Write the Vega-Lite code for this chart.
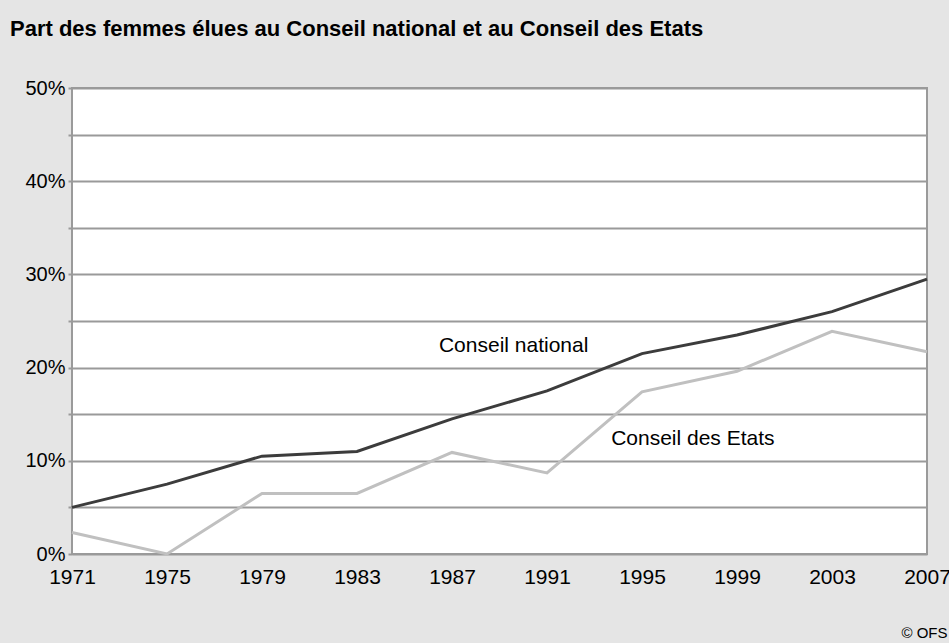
{
  "$schema": "https://vega.github.io/schema/vega-lite/v6.json",
  "width": 855,
  "height": 466,
  "autosize": {"type": "none"},
  "padding": {"left": 72, "top": 88, "right": 22, "bottom": 89},
  "background": "#e5e5e5",
  "config": {
    "font": "Liberation Sans",
    "view": {"fill": "white", "stroke": "#9a9a9a", "strokeWidth": 2}
  },
  "title": {
    "text": "Part des femmes élues au Conseil national et au Conseil des Etats",
    "anchor": "start",
    "frame": "group",
    "dx": -62,
    "offset": 37,
    "fontSize": 22,
    "fontWeight": "bold",
    "color": "#000000",
    "font": "Liberation Sans"
  },
  "datasets": {
    "series": [
      {"year": 1971, "value": 0.050, "conseil": "Conseil national"},
      {"year": 1975, "value": 0.075, "conseil": "Conseil national"},
      {"year": 1979, "value": 0.105, "conseil": "Conseil national"},
      {"year": 1983, "value": 0.110, "conseil": "Conseil national"},
      {"year": 1987, "value": 0.145, "conseil": "Conseil national"},
      {"year": 1991, "value": 0.175, "conseil": "Conseil national"},
      {"year": 1995, "value": 0.215, "conseil": "Conseil national"},
      {"year": 1999, "value": 0.235, "conseil": "Conseil national"},
      {"year": 2003, "value": 0.260, "conseil": "Conseil national"},
      {"year": 2007, "value": 0.295, "conseil": "Conseil national"},
      {"year": 1971, "value": 0.023, "conseil": "Conseil des Etats"},
      {"year": 1975, "value": 0.000, "conseil": "Conseil des Etats"},
      {"year": 1979, "value": 0.065, "conseil": "Conseil des Etats"},
      {"year": 1983, "value": 0.065, "conseil": "Conseil des Etats"},
      {"year": 1987, "value": 0.109, "conseil": "Conseil des Etats"},
      {"year": 1991, "value": 0.087, "conseil": "Conseil des Etats"},
      {"year": 1995, "value": 0.174, "conseil": "Conseil des Etats"},
      {"year": 1999, "value": 0.196, "conseil": "Conseil des Etats"},
      {"year": 2003, "value": 0.239, "conseil": "Conseil des Etats"},
      {"year": 2007, "value": 0.217, "conseil": "Conseil des Etats"}
    ],
    "labels": [
      {"year": 1986.45, "value": 0.223, "label": "Conseil national"},
      {"year": 1993.7, "value": 0.123, "label": "Conseil des Etats"}
    ]
  },
  "layer": [
    {
      "data": {"name": "series"},
      "mark": {"type": "line", "strokeWidth": 3, "clip": false},
      "encoding": {
        "x": {
          "field": "year",
          "type": "quantitative",
          "scale": {"domain": [1971, 2007], "nice": false, "zero": false},
          "axis": {
            "values": [1971, 1975, 1979, 1983, 1987, 1991, 1995, 1999, 2003, 2007],
            "format": "d",
            "grid": false,
            "domain": false,
            "ticks": false,
            "labelPadding": 12,
            "labelFontSize": 21,
            "labelColor": "#000000",
            "labelFlush": false,
            "labelOverlap": false,
            "title": "© OFS",
            "titleAnchor": "end",
            "titleAlign": "right",
            "titleX": 875,
            "titleY": 78,
            "titleBaseline": "middle",
            "titleFontSize": 15,
            "titleFontWeight": "normal",
            "titleColor": "#000000"
          }
        },
        "y": {
          "field": "value",
          "type": "quantitative",
          "scale": {"domain": [0, 0.5], "nice": false},
          "axis": {
            "values": [0, 0.05, 0.1, 0.15, 0.2, 0.25, 0.3, 0.35, 0.4, 0.45, 0.5],
            "labelExpr": "round(datum.value*100) % 10 === 0 ? round(datum.value*100) + '%' : ''",
            "grid": true,
            "gridColor": "#9a9a9a",
            "gridWidth": 2,
            "gridOpacity": 1,
            "domain": false,
            "ticks": true,
            "tickSize": 4,
            "tickColor": "#9a9a9a",
            "tickWidth": 2,
            "labelPadding": 3,
            "labelFontSize": 20,
            "labelColor": "#000000",
            "labelFlush": false,
            "labelOverlap": false,
            "title": null
          }
        },
        "color": {
          "field": "conseil",
          "type": "nominal",
          "scale": {"domain": ["Conseil national", "Conseil des Etats"], "range": ["#3c3c3c", "#c0c0c0"]},
          "legend": null
        }
      }
    },
    {
      "data": {"name": "labels"},
      "mark": {"type": "text", "align": "left", "baseline": "middle", "fontSize": 21, "color": "#000000"},
      "encoding": {
        "x": {"field": "year", "type": "quantitative"},
        "y": {"field": "value", "type": "quantitative"},
        "text": {"field": "label"}
      }
    }
  ]
}
